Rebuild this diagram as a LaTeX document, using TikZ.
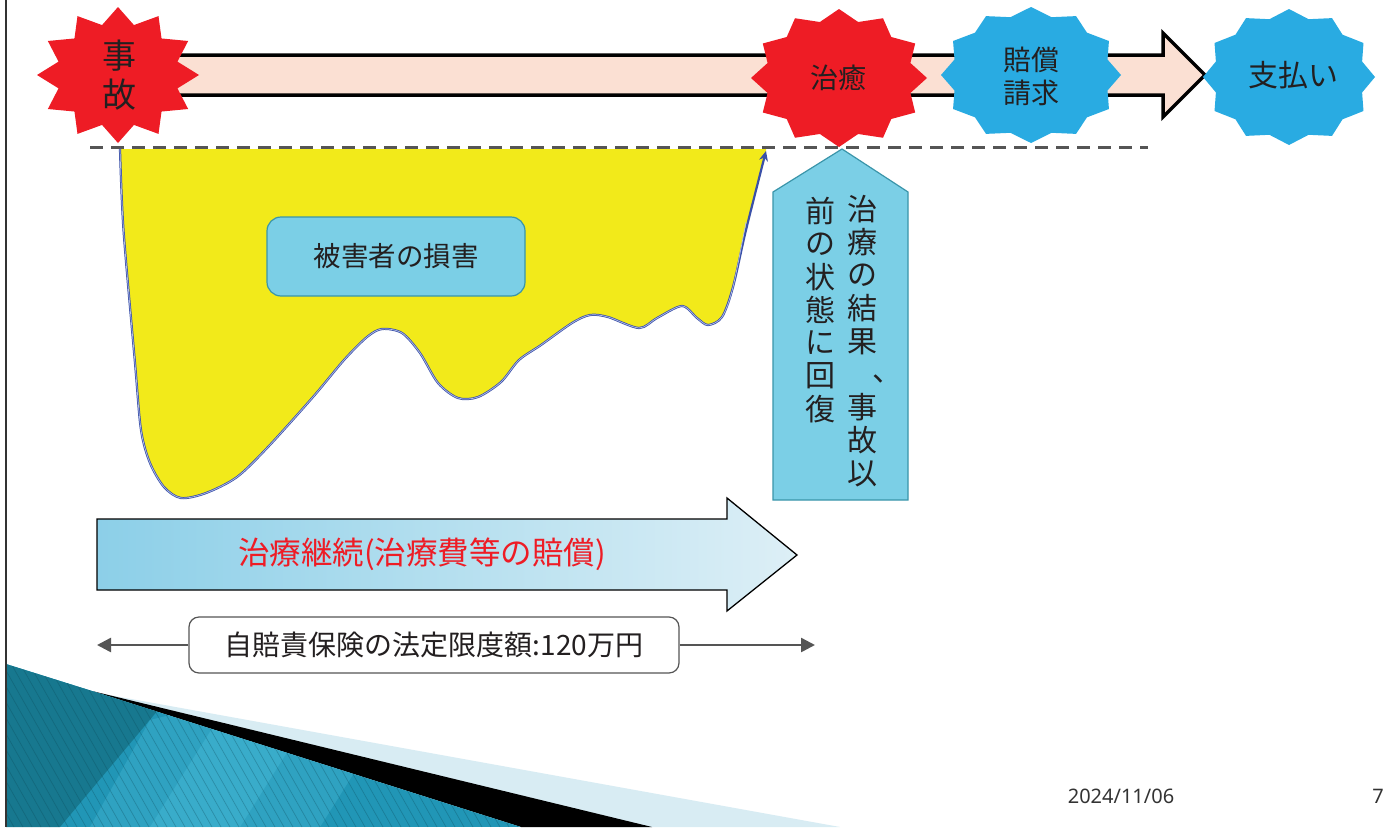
\documentclass[tikz,border=0pt]{standalone}
\usepackage{fontspec}
\setmainfont{Noto Sans CJK JP}
\newfontfamily\latinsans{Noto Sans}
\usetikzlibrary{arrows.meta}
\definecolor{starred}{HTML}{EE1C25}
\definecolor{sealblue}{HTML}{29ABE2}
\definecolor{peach}{HTML}{FBE0D3}
\definecolor{boxblue}{HTML}{7BCFE6}
\definecolor{boxedge}{HTML}{3A95AA}
\definecolor{dashgray}{HTML}{555555}
\definecolor{curveblue}{HTML}{3A50A8}
\definecolor{curvelight}{HTML}{B4BEEA}
\definecolor{yel}{HTML}{F2EA1A}
\definecolor{txt}{HTML}{231F20}
\definecolor{tealdark}{HTML}{17788F}
\definecolor{tealmid}{HTML}{2196B6}
\definecolor{teallight}{HTML}{4ABBD8}
\definecolor{tealhatch}{HTML}{0B4555}
\definecolor{paleblue}{HTML}{D8ECF3}
\definecolor{arrowL}{HTML}{8CCFE8}
\definecolor{arrowR}{HTML}{DDEFF6}
\definecolor{bordergray}{HTML}{333333}
\newcommand\spiky[6]{%
  \fill[#1] plot[samples at={0,...,23}, variable=\k]
    ({#2+#4*(1-(1-#6)*mod(\k,2))*cos(90+15*\k)},
     {#3-#5*(1-(1-#6)*mod(\k,2))*sin(90+15*\k)}) -- cycle;}
\tikzset{
  startext/.style={text=txt, align=center, font=\fontsize{28}{33}\selectfont},
  dmgbox/.style={fill=boxblue, draw=boxedge, line width=1.2pt, rounded corners=14pt,
    minimum width=258pt, minimum height=79pt, text=txt, font=\fontsize{27.5}{30}\selectfont},
  limbox/.style={fill=white, draw=dashgray, line width=1.2pt, rounded corners=10pt,
    minimum width=490pt, minimum height=56pt, text=txt, font=\fontsize{28}{32}\selectfont},
  limline/.style={draw=dashgray, line width=2.5pt, -{Triangle[length=14pt,width=14pt]}},
  vchar/.style={text=txt, font=\fontsize{30}{33}\selectfont, inner sep=0pt},
}
\begin{document}
\begin{tikzpicture}[x=1pt,y=-1pt]
\useasboundingbox (0,0) rectangle (1386,827);
\fill[white] (0,0) rectangle (1386,827);

% bottom-left decoration
\fill[paleblue] (98,693) -- (840,827) -- (600,827) -- cycle;
\fill[black] (92,691) -- (652,827) -- (521,827) -- cycle;
\begin{scope}
  \clip (6,664) -- (92,691) -- (521,827) -- (6,827) -- cycle;
  \fill[tealmid] (6,660) rectangle (525,827);
  \fill[tealdark] (6,660) -- (200,660) -- (60,827) -- (6,827) -- cycle;
  \fill[teallight, opacity=0.6] (230,700) -- (320,700) -- (240,827) -- (150,827) -- cycle;
  \fill[teallight, opacity=0.35] (320,700) -- (400,700) -- (320,827) -- (240,827) -- cycle;
  \fill[teallight, opacity=0.35] (150,720) -- (230,700) -- (150,827) -- (90,827) -- cycle;
  \foreach \i in {-20,...,60} {
    \draw[tealhatch, line width=0.7pt, opacity=0.3] (\i*9,660) -- (\i*9+95,827);
  }
\end{scope}

% left border
\draw[bordergray, line width=2pt] (6,0) -- (6,827);

% dashed baseline
\coordinate (dl) at (90,147);
\coordinate (dr) at (1148,147);
\draw[dashgray, line width=3pt, dash pattern=on 13pt off 8pt] (dl) -- (dr);

% damage area
\fill[yel] (120,149) -- plot[smooth, tension=0.5] coordinates {
 (120,149) (123.5,230) (135,363) (141,430) (150,463) (164,487) (181,498) (206,493)
 (237,477) (268,447) (313,397) (344,360) (367,337) (382,329) (402,333) (420,353)
 (438,383) (458,398) (478,397) (501,382) (519,360) (541,345) (572,323) (590,315)
 (608,317) (639,328) (657,318) (682,306) (697,318) (708,325) (722,317) (733,287)
 (746,230) (766,151)} -- (766,149) -- cycle;
\draw[curveblue, line width=2.2pt, -{Stealth[length=10pt,width=9pt]}] plot[smooth, tension=0.5] coordinates {
 (120,149) (123.5,230) (135,363) (141,430) (150,463) (164,487) (181,498) (206,493)
 (237,477) (268,447) (313,397) (344,360) (367,337) (382,329) (402,333) (420,353)
 (438,383) (458,398) (478,397) (501,382) (519,360) (541,345) (572,323) (590,315)
 (608,317) (639,328) (657,318) (682,306) (697,318) (708,325) (722,317) (733,287)
 (746,230) (766,151)};
\draw[curvelight, line width=0.7pt] plot[smooth, tension=0.5] coordinates {
 (120,149) (123.5,230) (135,363) (141,430) (150,463) (164,487) (181,498) (206,493)
 (237,477) (268,447) (313,397) (344,360) (367,337) (382,329) (402,333) (420,353)
 (438,383) (458,398) (478,397) (501,382) (519,360) (541,345) (572,323) (590,315)
 (608,317) (639,328) (657,318) (682,306) (697,318) (708,325) (722,317) (733,287)
 (746,222)};

\node[dmgbox] (dmg) at (396,256.5) {被害者の損害};

% top timeline arrow
\draw[line width=3.5pt, fill=peach, line join=miter]
  (150,55) -- (1163,55) -- (1163,33) -- (1205,75) -- (1163,117) -- (1163,95) -- (150,95) -- cycle;

% stars
\spiky{starred}{118}{75}{81}{68}{0.76}
\spiky{starred}{839}{78}{88}{69}{0.84}
\spiky{sealblue}{1031}{75}{90}{68}{0.88}
\spiky{sealblue}{1289}{77}{86}{68}{0.88}

\node[startext, font=\fontsize{34}{39}\selectfont] (jiko) at (119,75) {事\\故};
\node[startext] (chiyu) at (838,78) {治癒};
\node[startext] (seikyu) at (1031,76) {賠償\\請求};
\node[startext, font=\fontsize{30}{34}\selectfont] (shiharai) at (1293,75) {支払い};

% recovery pentagon
\draw[fill=boxblue, draw=boxedge, line width=1.2pt]
  (842,149) -- (908,192) -- (908,500) -- (773,500) -- (773,192) -- cycle;
\foreach \c [count=\i from 0] in {治,療,の,結,果} {
  \node[vchar] (r\i) at (862,209.5+33*\i) {\c};
}
\node[vchar, anchor=base west, text height=9pt, text depth=0pt] (r5) at (872,381) {、};
\foreach \c [count=\i from 6] in {事,故,以} {
  \node[vchar] (r\i) at (862,209.5+33*\i) {\c};
}
\foreach \c [count=\i from 0] in {前,の,状,態,に,回,復} {
  \node[vchar] (l\i) at (820,211+33*\i) {\c};
}

% treatment arrow
\draw[black, line width=1.3pt, left color=arrowL, right color=arrowR]
  (97,519) -- (727,519) -- (727,498) -- (797,555) -- (727,611) -- (727,590) -- (97,590) -- cycle;
\node[text=starred, font=\fontsize{31.5}{34}\selectfont] (treat) at (422,554) {治療継続(治療費等の賠償)};

% limit
\node[limbox] (lim) at (434,645) {自賠責保険の法定限度額:120万円};
\coordinate (la) at (97,645);
\coordinate (lb) at (815,645);
\draw[limline] (lim.west) -- (la);
\draw[limline] (lim.east) -- (lb);

% footer
\node[text=bordergray, font=\latinsans\fontsize{20}{24}\selectfont] (date) at (1121,796) {2024/11/06};
\node[text=bordergray, font=\latinsans\fontsize{20}{24}\selectfont] (page) at (1378,796) {7};
\end{tikzpicture}
\end{document}
